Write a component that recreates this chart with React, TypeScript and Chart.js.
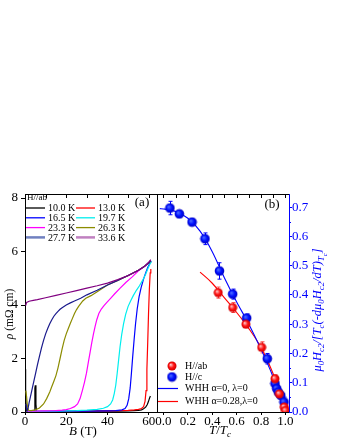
import React, { useEffect, useRef } from 'react';
import { Chart, registerables } from 'chart.js';

Chart.register(...registerables);

const SERIF = '"Liberation Serif", "Times New Roman", serif';
const BLUE = '#0000ff';
const OFF_B = 150; // left offset (px) of the right panel canvas

// ---------------- panel (a): rho vs B ----------------
const temps = ['10.0 K', '13.0 K', '16.5 K', '19.7 K', '23.3 K', '26.3 K', '27.7 K', '33.6 K'];
const curveColors = ['#000000', '#ff0000', '#0000ff', '#00eeee', '#ff00ff', '#8c8c00', '#1a1a8c', '#800080'];
const legendColors = ['#000000', '#ff0000', '#0000ff', '#00eeee', '#ff00ff', '#8c8c00', '#7080c0', '#c080c0'];

const B_10K = [0, 0.3, 0.6, 1, 2, 4.5, 4.8, 5.0, 5.3, 5.6, 8, 15, 25, 35, 45, 50, 53, 55, 56.5, 57.5, 58.5, 59.3, 59.8, 60.3, 60.8];
const R_10K = [1.6, 0.8, 0.1, 0.02, 0.02, 0.04, 0.9, 1.0, 0.3, 0.02, 0.01, 0.02, 0.02, 0.03, 0.03, 0.04, 0.05, 0.06, 0.08, 0.12, 0.18, 0.28, 0.38, 0.5, 0.6];

const B_13K = [1, 10, 20, 30, 40, 45, 50, 53, 55, 56.5, 57.5, 58.2, 58.7, 59.1, 59.5, 59.9, 60.3, 60.7, 61];
const R_13K = [0.02, 0.02, 0.02, 0.03, 0.04, 0.05, 0.06, 0.08, 0.1, 0.13, 0.2, 0.4, 0.8, 1.6, 2.6, 3.7, 4.6, 5.2, 5.35];

const B_16K = [1, 10, 20, 30, 40, 44, 47, 48.5, 49.5, 50.3, 51, 51.6, 52.2, 52.9, 53.6, 54.4, 55.3, 56.3, 57.4, 58.5, 59.5, 60.5, 61.2];
const R_16K = [0.02, 0.02, 0.03, 0.03, 0.04, 0.05, 0.08, 0.13, 0.25, 0.5, 0.9, 1.45, 2.05, 2.7, 3.3, 3.85, 4.3, 4.65, 4.95, 5.2, 5.4, 5.55, 5.65];

const B_19K = [1, 10, 20, 25, 30, 35, 38, 40, 41.5, 42.5, 43.3, 44, 44.7, 45.4, 46.1, 46.9, 47.8, 48.8, 50, 51.2, 52.5, 54, 55.5, 57, 58.5, 59.7, 60.7, 61.3];
const R_19K = [0.02, 0.03, 0.04, 0.05, 0.07, 0.1, 0.14, 0.2, 0.3, 0.45, 0.7, 1.0, 1.45, 1.95, 2.45, 2.9, 3.3, 3.65, 3.95, 4.15, 4.35, 4.55, 4.72, 4.92, 5.15, 5.38, 5.55, 5.62];

const B_23K = [1, 5, 10, 15, 18, 20, 22, 24, 25.5, 26.7, 27.8, 28.8, 29.8, 30.8, 31.6, 32.4, 33.2, 34, 34.8, 35.8, 37, 38.3, 39.7, 41.5, 43.5, 46, 49, 52, 55, 58, 60, 61];
const R_23K = [0.03, 0.03, 0.04, 0.05, 0.07, 0.09, 0.13, 0.2, 0.3, 0.5, 0.8, 1.1, 1.45, 1.9, 2.25, 2.6, 2.92, 3.2, 3.45, 3.68, 3.85, 3.98, 4.1, 4.25, 4.42, 4.62, 4.85, 5.05, 5.28, 5.45, 5.58, 5.65];

const B_26K = [0.4, 0.8, 1.2, 1.8, 3, 5, 7, 9, 10.5, 12, 13, 14, 15, 16, 17, 18, 19, 20, 21, 22, 23, 24, 25, 26, 27, 28, 29.5, 32, 35, 40, 45, 50, 55, 58, 60, 61];
const R_26K = [0.8, 0.55, 0.2, 0.06, 0.05, 0.08, 0.15, 0.3, 0.5, 0.75, 0.95, 1.15, 1.36, 1.65, 2.0, 2.36, 2.68, 2.92, 3.12, 3.32, 3.5, 3.68, 3.83, 3.95, 4.05, 4.15, 4.25, 4.35, 4.5, 4.75, 4.92, 5.1, 5.3, 5.45, 5.57, 5.64];

const B_27K = [0.4, 1, 1.5, 2, 3, 4, 5, 6, 7, 8, 9, 10, 11, 12, 13, 14, 15, 16, 17, 18, 20, 22, 24, 27, 30, 35, 40, 45, 50, 55, 58, 60, 61];
const R_27K = [0.3, 0.05, 0.15, 0.35, 0.7, 1.05, 1.4, 1.75, 2.08, 2.4, 2.68, 2.92, 3.12, 3.3, 3.45, 3.58, 3.68, 3.76, 3.84, 3.9, 4.0, 4.08, 4.15, 4.25, 4.38, 4.55, 4.75, 4.92, 5.1, 5.3, 5.45, 5.58, 5.66];

const B_33K = [0.3, 0.8, 2, 4, 6, 10, 15, 20, 25, 30, 35, 40, 45, 50, 55, 58, 60, 61];
const R_33K = [3.98, 4.1, 4.14, 4.17, 4.2, 4.27, 4.36, 4.45, 4.54, 4.63, 4.72, 4.82, 4.95, 5.1, 5.3, 5.45, 5.6, 5.7];

const fieldSets = [B_10K, B_13K, B_16K, B_19K, B_23K, B_26K, B_27K, B_33K];
const rhoSets = [R_10K, R_13K, R_16K, R_19K, R_23K, R_26K, R_27K, R_33K];

const B_MIN = 0, B_MAX = 64, B_STEP = 20;
const RHO_MIN = 0, RHO_MAX = 8.15, RHO_STEP = 2;
const B_TOP_TICKS = [0, 10, 20, 30, 40, 50, 60];

// ---------------- panel (b): normalized Hc2 vs T/Tc ----------------
const tAb = [0.449, 0.567, 0.676, 0.805, 0.914, 0.95, 0.99, 1.0];
const hAb = [0.408, 0.357, 0.300, 0.221, 0.114, 0.062, 0.017, 0.005];
const errAb = [0.019, 0.017, 0.012, 0.019, 0.013, 0, 0, 0];

const tC = [0.053, 0.130, 0.234, 0.340, 0.459, 0.567, 0.682, 0.851, 0.914, 0.928, 0.941, 0.961, 0.988];
const hC = [0.697, 0.677, 0.649, 0.592, 0.482, 0.403, 0.321, 0.182, 0.097, 0.080, 0.068, 0.057, 0.034];
const errC = [0.023, 0, 0, 0.02, 0.028, 0.017, 0.014, 0.018, 0.017, 0, 0, 0, 0.017];

const tWhh0 = [-0.03, 0.0, 0.1, 0.2, 0.3, 0.4, 0.5, 0.6, 0.7, 0.8, 0.9, 0.95, 1.0];
const hWhh0 = [0.695, 0.694, 0.685, 0.662, 0.618, 0.548, 0.458, 0.376, 0.300, 0.214, 0.119, 0.064, 0.003];
const tWhh28 = [0.3, 0.4, 0.5, 0.6, 0.7, 0.8, 0.9, 0.95, 1.0];
const hWhh28 = [0.478, 0.44, 0.39, 0.34, 0.285, 0.22, 0.13, 0.075, 0.005];

const T_MIN = -0.053, T_MAX = 1.029, T_STEP = 0.2;
const H_MIN = 0, H_MAX = 0.745, H_STEP = 0.1;
const T_TOP_TICKS = [0, 0.1, 0.2, 0.3, 0.4, 0.5, 0.6, 0.7, 0.8, 0.9, 1.0];
const H_MINOR_TICKS = [0.05, 0.15, 0.25, 0.35, 0.45, 0.55, 0.65];

const pts = (xs: number[], ys: number[]) => xs.map((x, i) => ({ x, y: ys[i] }));

type Seg = { t: string; it?: boolean; lv?: number };

function drawRich(ctx: CanvasRenderingContext2D, segs: Seg[], x: number, y: number, size: number, color: string, rotate: boolean) {
  ctx.save();
  ctx.translate(x, y);
  if (rotate) ctx.rotate(-Math.PI / 2);
  const fontFor = (s: Seg) => {
    const sz = s.lv === 2 ? size * 0.55 : s.lv === 1 ? size * 0.7 : size;
    return `${s.it ? 'italic ' : ''}${sz}px ${SERIF}`;
  };
  let total = 0;
  for (const s of segs) {
    ctx.font = fontFor(s);
    total += ctx.measureText(s.t).width;
  }
  let cx = -total / 2;
  ctx.fillStyle = color;
  ctx.textBaseline = 'alphabetic';
  ctx.textAlign = 'left';
  for (const s of segs) {
    ctx.font = fontFor(s);
    const dy = s.lv === 2 ? size * 0.45 : s.lv === 1 ? size * 0.25 : 0;
    ctx.fillText(s.t, cx, dy);
    cx += ctx.measureText(s.t).width;
  }
  ctx.restore();
}

function sphere(base: string, light: string, dark: string, r: number) {
  const c = document.createElement('canvas');
  const s = Math.ceil(2 * r + 1);
  c.width = s;
  c.height = s;
  const g = c.getContext('2d')!;
  const m = s / 2;
  const grad = g.createRadialGradient(m - r * 0.3, m - r * 0.3, r * 0.05, m, m, r);
  grad.addColorStop(0, light);
  grad.addColorStop(0.55, base);
  grad.addColorStop(1, dark);
  g.fillStyle = grad;
  g.beginPath();
  g.arc(m, m, r, 0, Math.PI * 2);
  g.fill();
  return c;
}

const panelAPlugin = {
  id: 'panelA',
  afterDraw(chart: any) {
    const { ctx, chartArea: a, scales } = chart;
    const xs = scales.x;
    ctx.save();
    ctx.strokeStyle = '#000';
    ctx.lineWidth = 1;
    ctx.beginPath();
    ctx.moveTo(a.left, a.top + 0.5);
    ctx.lineTo(a.right + 1, a.top + 0.5);
    ctx.moveTo(a.right + 0.5, a.top);
    ctx.lineTo(a.right + 0.5, a.bottom + 1);
    for (const v of B_TOP_TICKS) {
      const px = Math.round(xs.getPixelForValue(v)) + 0.5;
      ctx.moveTo(px, a.top);
      ctx.lineTo(px, a.top + 4);
    }
    ctx.stroke();

    // legend
    ctx.fillStyle = '#000';
    ctx.font = `9px ${SERIF}`;
    ctx.textAlign = 'left';
    ctx.textBaseline = 'middle';
    ctx.fillText('H//ab', a.left + 2, a.top + 4);
    ctx.font = `10px ${SERIF}`;
    for (let i = 0; i < temps.length; i++) {
      const col = i % 2;
      const row = Math.floor(i / 2);
      const y = a.top + 14 + row * 9.8;
      const x0 = a.left + 1 + col * 50;
      ctx.strokeStyle = legendColors[i];
      ctx.lineWidth = i >= 6 ? 2.5 : 1.3;
      ctx.beginPath();
      ctx.moveTo(x0, y);
      ctx.lineTo(x0 + 19, y);
      ctx.stroke();
      ctx.fillStyle = '#000';
      ctx.fillText(temps[i], x0 + 22, y + 0.5);
    }
    ctx.font = `13px ${SERIF}`;
    ctx.textAlign = 'center';
    ctx.fillText('(a)', 142, a.top + 9);

    drawRich(ctx, [{ t: 'ρ', it: true }, { t: ' (mΩ cm)' }], 12.5, 314, 11.5, '#000', true);
    drawRich(ctx, [{ t: 'B', it: true }, { t: ' (T)' }], 83, 435, 13, '#000', false);
    ctx.restore();
  },
};

function makePanelBPlugin(redSprite: HTMLCanvasElement, blueSprite: HTMLCanvasElement) {
  return {
    id: 'panelB',
    beforeDatasetsDraw(chart: any) {
      const { ctx, scales } = chart;
      const xs = scales.x, ys = scales.y;
      ctx.save();
      chart.data.datasets.forEach((ds: any) => {
        if (!ds.errorBars) return;
        ctx.strokeStyle = ds.errorColor;
        ctx.lineWidth = 1;
        ds.data.forEach((p: any, i: number) => {
          const e = ds.errorBars[i];
          if (!e) return;
          const px = Math.round(xs.getPixelForValue(p.x)) + 0.5;
          const y1 = ys.getPixelForValue(p.y + e);
          const y2 = ys.getPixelForValue(p.y - e);
          ctx.beginPath();
          ctx.moveTo(px, y1);
          ctx.lineTo(px, y2);
          ctx.moveTo(px - 2, y1);
          ctx.lineTo(px + 2, y1);
          ctx.moveTo(px - 2, y2);
          ctx.lineTo(px + 2, y2);
          ctx.stroke();
        });
      });
      ctx.restore();
    },
    afterDraw(chart: any) {
      const { ctx, chartArea: a, scales } = chart;
      const xs = scales.x, ys = scales.y;
      ctx.save();
      ctx.strokeStyle = '#000';
      ctx.lineWidth = 1;
      ctx.beginPath();
      ctx.moveTo(a.left + 0.5, a.top);
      ctx.lineTo(a.left + 0.5, a.bottom + 1);
      ctx.moveTo(a.left, a.top + 0.5);
      ctx.lineTo(a.right, a.top + 0.5);
      for (const v of T_TOP_TICKS) {
        const px = Math.round(xs.getPixelForValue(v)) + 0.5;
        ctx.moveTo(px, a.top);
        ctx.lineTo(px, a.top + 4);
      }
      ctx.stroke();
      ctx.strokeStyle = BLUE;
      ctx.beginPath();
      for (const v of H_MINOR_TICKS) {
        const py = Math.round(ys.getPixelForValue(v)) + 0.5;
        ctx.moveTo(a.right, py);
        ctx.lineTo(a.right + 2, py);
      }
      ctx.stroke();

      // legend
      const lx = 172 - OFF_B;
      ctx.drawImage(redSprite, lx - redSprite.width / 2, 366 - redSprite.height / 2);
      ctx.drawImage(blueSprite, lx - blueSprite.width / 2, 377 - blueSprite.height / 2);
      ctx.lineWidth = 1.2;
      ctx.strokeStyle = BLUE;
      ctx.beginPath();
      ctx.moveTo(158 - OFF_B, 388.5);
      ctx.lineTo(178 - OFF_B, 388.5);
      ctx.stroke();
      ctx.strokeStyle = '#ff0000';
      ctx.beginPath();
      ctx.moveTo(158 - OFF_B, 401.5);
      ctx.lineTo(178 - OFF_B, 401.5);
      ctx.stroke();
      ctx.fillStyle = '#000';
      ctx.font = `10px ${SERIF}`;
      ctx.textAlign = 'left';
      ctx.textBaseline = 'middle';
      const tx = 185 - OFF_B;
      ctx.fillText('H//ab', tx, 366.5);
      ctx.fillText('H//c', tx, 377.5);
      ctx.fillText('WHH α=0, λ=0', tx, 388.5);
      ctx.fillText('WHH α=0.28,λ=0', tx, 401.5);

      ctx.font = `13px ${SERIF}`;
      ctx.textAlign = 'center';
      ctx.fillText('(b)', 272 - OFF_B, a.top + 11);

      drawRich(ctx, [{ t: 'T', it: true }, { t: '/' }, { t: 'T', it: true }, { t: 'c', it: true, lv: 1 }], 220 - OFF_B, 434, 13, '#000', false);
      drawRich(
        ctx,
        [
          { t: 'μ', it: true }, { t: '0', it: true, lv: 1 }, { t: 'H', it: true }, { t: 'c2', it: true, lv: 1 },
          { t: '/[', it: true }, { t: 'T', it: true }, { t: 'c', it: true, lv: 1 },
          { t: '(-d', it: true }, { t: 'μ', it: true }, { t: '0', it: true, lv: 1 }, { t: 'H', it: true }, { t: 'c2', it: true, lv: 1 },
          { t: '/d', it: true }, { t: 'T', it: true }, { t: ')', it: true }, { t: 'T', it: true, lv: 1 }, { t: 'c', it: true, lv: 2 },
          { t: ']', it: true },
        ],
        321 - OFF_B, 310, 12.5, BLUE, true
      );
      ctx.restore();
    },
  };
}

const tickFont = { family: SERIF, size: 13, lineHeight: 1 };

export default function App() {
  const refA = useRef<HTMLCanvasElement>(null);
  const refB = useRef<HTMLCanvasElement>(null);

  useEffect(() => {
    const chartA = new Chart(refA.current!, {
      type: 'line',
      data: {
        datasets: temps.map((t, i) => ({
          label: t,
          data: pts(fieldSets[i], rhoSets[i]),
          borderColor: curveColors[i],
          backgroundColor: curveColors[i],
          borderWidth: 1.2,
          pointRadius: 0,
          tension: 0,
          fill: false,
          order: temps.length - i,
        })),
      },
      options: {
        animation: false,
        responsive: false,
        events: [],
        layout: { padding: { top: 194, right: 13, left: 0, bottom: 0 } },
        scales: {
          x: {
            type: 'linear',
            min: B_MIN,
            max: B_MAX,
            ticks: { stepSize: B_STEP, includeBounds: false, color: '#000', font: tickFont, padding: 0, maxRotation: 0, autoSkip: false },
            grid: { drawOnChartArea: false, color: '#000', tickLength: 3, tickColor: '#000' },
            border: { color: '#000', width: 1 },
            afterFit: (s: any) => { s.height = 28; },
          },
          y: {
            type: 'linear',
            min: RHO_MIN,
            max: RHO_MAX,
            ticks: { stepSize: RHO_STEP, includeBounds: false, color: '#000', font: tickFont, padding: 3 },
            grid: { drawOnChartArea: false, color: '#000', tickLength: 4, tickColor: '#000' },
            border: { color: '#000', width: 1 },
            afterFit: (s: any) => { s.width = 25; },
          },
        },
        plugins: { legend: { display: false }, tooltip: { enabled: false } },
      } as any,
      plugins: [panelAPlugin],
    });

    const redSprite = sphere('#ff1010', '#ffc8c8', '#d00000', 4.5);
    const blueSprite = sphere('#0010ff', '#5070ff', '#0000c0', 4.8);

    const chartB = new Chart(refB.current!, {
      type: 'line',
      data: {
        datasets: [
          {
            label: 'H//ab',
            data: pts(tAb, hAb),
            showLine: false,
            pointStyle: redSprite,
            pointRadius: 5,
            errorBars: errAb,
            errorColor: '#ff5050',
            order: 0,
          },
          {
            label: 'H//c',
            data: pts(tC, hC),
            showLine: false,
            pointStyle: blueSprite,
            pointRadius: 5,
            errorBars: errC,
            errorColor: BLUE,
            order: 1,
          },
          {
            label: 'WHH α=0, λ=0',
            data: pts(tWhh0, hWhh0),
            borderColor: BLUE,
            borderWidth: 1.1,
            pointRadius: 0,
            cubicInterpolationMode: 'monotone',
            fill: false,
            order: 2,
          },
          {
            label: 'WHH α=0.28,λ=0',
            data: pts(tWhh28, hWhh28),
            borderColor: '#ff0000',
            borderWidth: 1.1,
            pointRadius: 0,
            cubicInterpolationMode: 'monotone',
            fill: false,
            order: 3,
          },
        ] as any,
      },
      options: {
        animation: false,
        responsive: false,
        events: [],
        layout: { padding: { top: 194, right: 0, left: 7, bottom: 0 } },
        scales: {
          x: {
            type: 'linear',
            min: T_MIN,
            max: T_MAX,
            ticks: {
              stepSize: T_STEP,
              includeBounds: false,
              color: '#000',
              font: tickFont,
              padding: 0,
              maxRotation: 0,
              autoSkip: false,
              callback: (v: any) => Number(v).toFixed(1),
            },
            grid: { drawOnChartArea: false, color: '#000', tickLength: 3, tickColor: '#000' },
            border: { color: '#000', width: 1 },
            afterFit: (s: any) => { s.height = 28; },
          },
          y: {
            type: 'linear',
            position: 'right',
            min: H_MIN,
            max: H_MAX,
            ticks: {
              stepSize: H_STEP,
              includeBounds: false,
              color: BLUE,
              font: tickFont,
              padding: 0,
              callback: (v: any) => Number(v).toFixed(1),
            },
            grid: { drawOnChartArea: false, color: BLUE, tickLength: 3, tickColor: BLUE },
            border: { color: BLUE, width: 1 },
            afterFit: (s: any) => { s.width = 51; },
          },
        },
        plugins: { legend: { display: false }, tooltip: { enabled: false } },
      } as any,
      plugins: [makePanelBPlugin(redSprite, blueSprite)],
    });

    return () => {
      chartA.destroy();
      chartB.destroy();
    };
  }, []);

  return (
    <div style={{ position: 'fixed', left: 0, top: 0, width: 340, height: 440, background: '#fff', overflow: 'hidden' }}>
      <canvas ref={refA} width={170} height={440} style={{ position: 'absolute', left: 0, top: 0, width: 170, height: 440 }} />
      <canvas ref={refB} width={190} height={440} style={{ position: 'absolute', left: OFF_B, top: 0, width: 190, height: 440 }} />
    </div>
  );
}
